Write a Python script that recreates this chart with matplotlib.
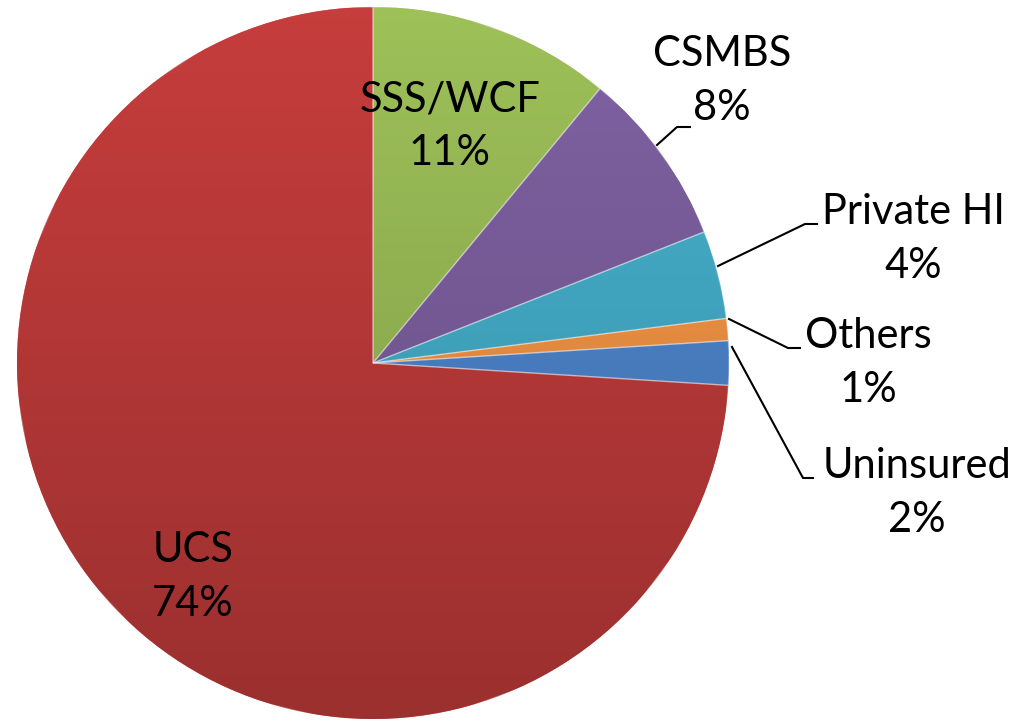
import numpy as np
import matplotlib.pyplot as plt
from matplotlib.colors import to_rgb

# shares of the population by health insurance scheme (%)
labels = ['SSS/WCF', 'CSMBS', 'Private HI', 'Others', 'Uninsured', 'UCS']
shares = [11, 8, 4, 1, 2, 74]
colors = ['#9BBD57', '#7D60A0', '#45AFCB', '#F79646', '#4F87CF', '#C23C3B']

# label block centres in pixels (x, y from top) and leader line points
label_pos = [(450, 126), (722, 81), (913, 239), (868, 363), (917, 493), (193, 577)]
leaders = [None,
           [(657, 145), (677, 127), (690, 127)],
           [(718, 266), (805, 224), (817, 224)],
           [(729, 319), (788, 348), (800, 348)],
           [(732, 347), (803, 478), (813, 478)],
           None]

W, H = 1021, 724
plt.rcParams['font.family'] = ['Lato', 'DejaVu Sans']

fig = plt.figure(figsize=(W / 100, H / 100), dpi=100)
ax = fig.add_axes([0, 0, 1, 1])

cx, cy, r = 373, H - 363, 356
wedges, _ = ax.pie(shares, colors=colors, startangle=90, counterclock=False,
                   center=(cx, cy), radius=r,
                   wedgeprops=dict(edgecolor=(1, 1, 1, 0.35), linewidth=1.0))

# soft vertical shading like the office bevel look
shade = np.linspace(0.80, 1.02, 256)
for w, c in zip(wedges, colors):
    rgb = np.array(to_rgb(c))
    grad = np.clip(shade[:, None, None] * rgb[None, None, :], 0, 1)
    im = ax.imshow(grad, extent=(cx - r, cx + r, cy - r, cy + r),
                   origin='lower', aspect='auto', zorder=w.get_zorder(),
                   interpolation='bilinear')
    im.set_clip_path(w)
    ax.add_patch(plt.Polygon(w.get_path().vertices, closed=True,
                             transform=w.get_transform(), fill=False,
                             edgecolor=(1, 1, 1, 0.3), linewidth=1.0,
                             zorder=w.get_zorder() + 0.1))

for lab, s, (px, py), ld in zip(labels, shares, label_pos, leaders):
    ax.text(px, H - py, f'{lab}\n{s}%', ha='center', va='center',
            fontsize=30, linespacing=1.5, color='black', zorder=5)
    if ld:
        xs = [p[0] for p in ld]
        ys = [H - p[1] for p in ld]
        ax.plot(xs, ys, color='black', lw=1.5, zorder=4)

ax.set_xlim(0, W)
ax.set_ylim(0, H)
ax.set_aspect('equal')
ax.axis('off')

plt.savefig('out.png', dpi=100)
